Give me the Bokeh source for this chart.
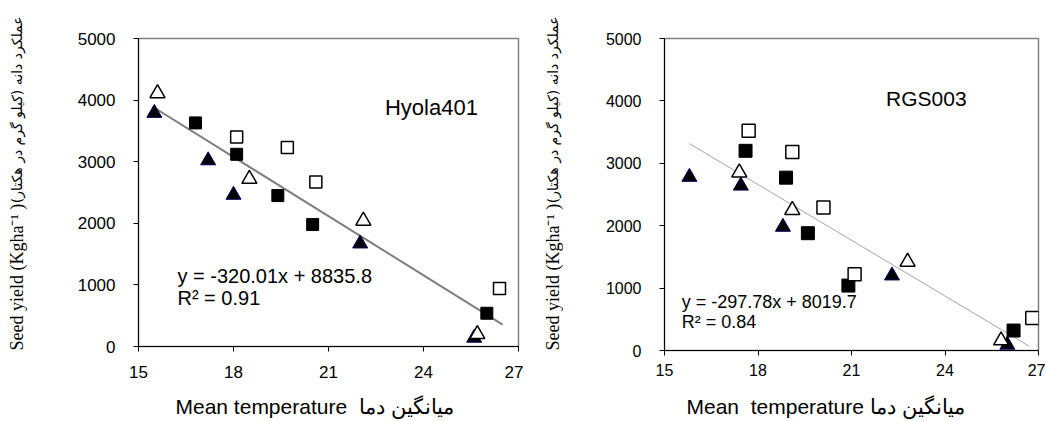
from math import pi
from bokeh.plotting import figure
from bokeh.layouts import row, column
from bokeh.models import FixedTicker, Label, Range1d
from bokeh.embed import file_html
from bokeh.resources import INLINE

x_ticks = [15, 18, 21, 24, 27]
y_ticks = [0, 1000, 2000, 3000, 4000, 5000]

# Hyola401
h_otri_x = [15.6, 18.5, 22.1, 25.7]
h_otri_y = [4110, 2720, 2040, 200]
h_ftri_x = [15.5, 17.2, 18.0, 22.0, 25.6]
h_ftri_y = [3790, 3020, 2460, 1670, 140]
h_fsq_x = [16.8, 18.1, 19.4, 20.5, 26.0]
h_fsq_y = [3630, 3120, 2450, 1980, 540]
h_osq_x = [18.1, 19.7, 20.6, 26.4]
h_osq_y = [3400, 3230, 2670, 940]
h_trend_x = [15.5, 26.5]
h_trend_y = [3876, 356]
h_eq = "y = -320.01x + 8835.8"
h_r2 = "R² = 0.91"

# RGS003
r_otri_x = [17.4, 19.1, 22.8, 25.8]
r_otri_y = [2850, 2250, 1420, 160]
r_ftri_x = [15.8, 17.45, 18.8, 22.3, 26.0]
r_ftri_y = [2780, 2640, 1980, 1200, 90]
r_fsq_x = [17.6, 18.9, 19.6, 20.9, 26.2]
r_fsq_y = [3200, 2770, 1880, 1040, 320]
r_osq_x = [17.7, 19.1, 20.1, 21.1, 26.8]
r_osq_y = [3520, 3180, 2290, 1220, 520]
r_trend_x = [15.8, 26.7]
r_trend_y = [3315, 69]
r_eq = "y = -297.78x + 8019.7"
r_r2 = "R² = 0.84"

y_label_en = "Seed yield (Kgha⁻¹ )"
y_label_fa = "عملکرد دانه (کیلو گرم در هکتار)"
x_label_left = "Mean temperature\u00a0\u00a0میانگین دما"
x_label_right = "Mean\u00a0\u00a0temperature میانگین دما"

TOP_H = 390
BOT_H = 30


def blank(width, height):
    p = figure(width=width, height=height, output_backend="svg", toolbar_location=None,
               x_range=Range1d(0, width), y_range=Range1d(0, height),
               x_axis_type=None, y_axis_type=None, frame_align=False,
               min_border_left=0, min_border_right=0, min_border_top=0, min_border_bottom=0)
    p.grid.visible = False
    p.outline_line_color = None
    p.background_fill_color = "white"
    p.border_fill_color = "white"
    return p


def ylabel_strip(width, cx):
    p = blank(width, TOP_H)
    # English part starts near the bottom, Persian part ends near the top
    p.add_layout(Label(x=cx, y=TOP_H - 350, text=y_label_en, angle=pi / 2,
                       text_font="Liberation Serif", text_font_size="18px",
                       text_align="left", text_baseline="middle", text_color="black"))
    p.add_layout(Label(x=cx, y=TOP_H - 16, text=y_label_fa, angle=pi / 2,
                       text_font="DejaVu Sans", text_font_size="14px",
                       text_align="right", text_baseline="middle", text_color="black"))
    return p


def make_panel(cfg):
    p = figure(width=cfg["w"], height=TOP_H, output_backend="svg", toolbar_location=None,
               x_range=Range1d(15, 27), y_range=Range1d(0, 5000), frame_align=False,
               min_border_left=cfg["bl"], min_border_right=cfg["br"],
               min_border_top=38, min_border_bottom=cfg["bb"])
    p.grid.visible = False
    p.outline_line_color = "#808080"
    p.outline_line_width = 1.5
    p.background_fill_color = "white"
    p.border_fill_color = "white"
    for ax, ticks, sd in ((p.xaxis[0], x_ticks, cfg["xsd"]), (p.yaxis[0], y_ticks, 18)):
        ax.ticker = FixedTicker(ticks=ticks)
        ax.major_tick_out = 5
        ax.major_tick_in = 0
        ax.minor_tick_line_color = None
        ax.axis_line_color = "black"
        ax.major_tick_line_color = "black"
        ax.major_label_text_font = "Liberation Sans"
        ax.major_label_text_font_size = cfg["tfs"]
        ax.major_label_text_color = "black"
        ax.major_label_standoff = sd

    p.line(cfg["tx"], cfg["ty"], line_color=cfg["lc"], line_width=cfg["lw"])
    p.scatter(cfg["ftx"], cfg["fty"], marker="triangle", size=15,
              fill_color="black", line_color="#000060", line_width=1)
    p.scatter(cfg["otx"], cfg["oty"], marker="triangle", size=15,
              fill_color="white", line_color="black", line_width=1.5)
    p.scatter(cfg["fsx"], cfg["fsy"], marker="square", size=cfg["sq"],
              fill_color="black", line_color="black", line_width=1)
    p.scatter(cfg["osx"], cfg["osy"], marker="square", size=cfg["sq"],
              fill_color="white", line_color="black", line_width=1.5)

    p.add_layout(Label(x=cfg["title_x"], y=cfg["title_y"], text=cfg["title"],
                       text_font="Liberation Sans", text_font_size=cfg["title_fs"],
                       text_align="center", text_baseline="middle", text_color="black"))
    p.add_layout(Label(x=cfg["eq_x"], y=cfg["eq_y"], text=cfg["eq"],
                       text_font="Liberation Sans", text_font_size=cfg["eq_fs"],
                       text_align="left", text_baseline="middle", text_color="black"))
    p.add_layout(Label(x=cfg["eq_x"], y=cfg["r2_y"], text=cfg["r2"],
                       text_font="Liberation Sans", text_font_size=cfg["eq_fs"],
                       text_align="left", text_baseline="middle", text_color="black"))
    return p


# left group: y-label strip (x 0..36), panel (36..523), frame 138..518, y 38..346
yl_left = ylabel_strip(36, 16)
left = make_panel(dict(
    w=487, bl=102, br=5, bb=TOP_H - 346, xsd=14, tfs="17px",
    tx=h_trend_x, ty=h_trend_y, lc="#7f7f7f", lw=2,
    ftx=h_ftri_x, fty=h_ftri_y, otx=h_otri_x, oty=h_otri_y,
    fsx=h_fsq_x, fsy=h_fsq_y, osx=h_osq_x, osy=h_osq_y, sq=12,
    title="Hyola401", title_x=24.25, title_y=3880, title_fs="22px",
    eq=h_eq, r2=h_r2, eq_x=16.23, eq_y=1150, r2_y=795, eq_fs="20px",
))

# right group: y-label strip (523..563), panel (563..1045), frame 664..1038, y 38..350
yl_right = ylabel_strip(40, 29)
right = make_panel(dict(
    w=482, bl=101, br=7, bb=TOP_H - 350, xsd=8, tfs="16px",
    tx=r_trend_x, ty=r_trend_y, lc="#a6a6a6", lw=1,
    ftx=r_ftri_x, fty=r_ftri_y, otx=r_otri_x, oty=r_otri_y,
    fsx=r_fsq_x, fsy=r_fsq_y, osx=r_osq_x, osy=r_osq_y, sq=13,
    title="RGS003", title_x=23.4, title_y=4040, title_fs="21px",
    eq=r_eq, r2=r_r2, eq_x=15.55, eq_y=770, r2_y=450, eq_fs="18px",
))

# x-label strip along the bottom (y 390..420)
xstrip = blank(1045, BOT_H)
xstrip.add_layout(Label(x=175, y=14, text=x_label_left, text_font="Liberation Sans",
                        text_font_size="21px", text_align="left",
                        text_baseline="middle", text_color="black"))
xstrip.add_layout(Label(x=686, y=14, text=x_label_right, text_font="Liberation Sans",
                        text_font_size="21px", text_align="left",
                        text_baseline="middle", text_color="black"))

layout = column(row(yl_left, left, yl_right, right), xstrip)
open("out.html", "w").write(file_html(layout, INLINE))
